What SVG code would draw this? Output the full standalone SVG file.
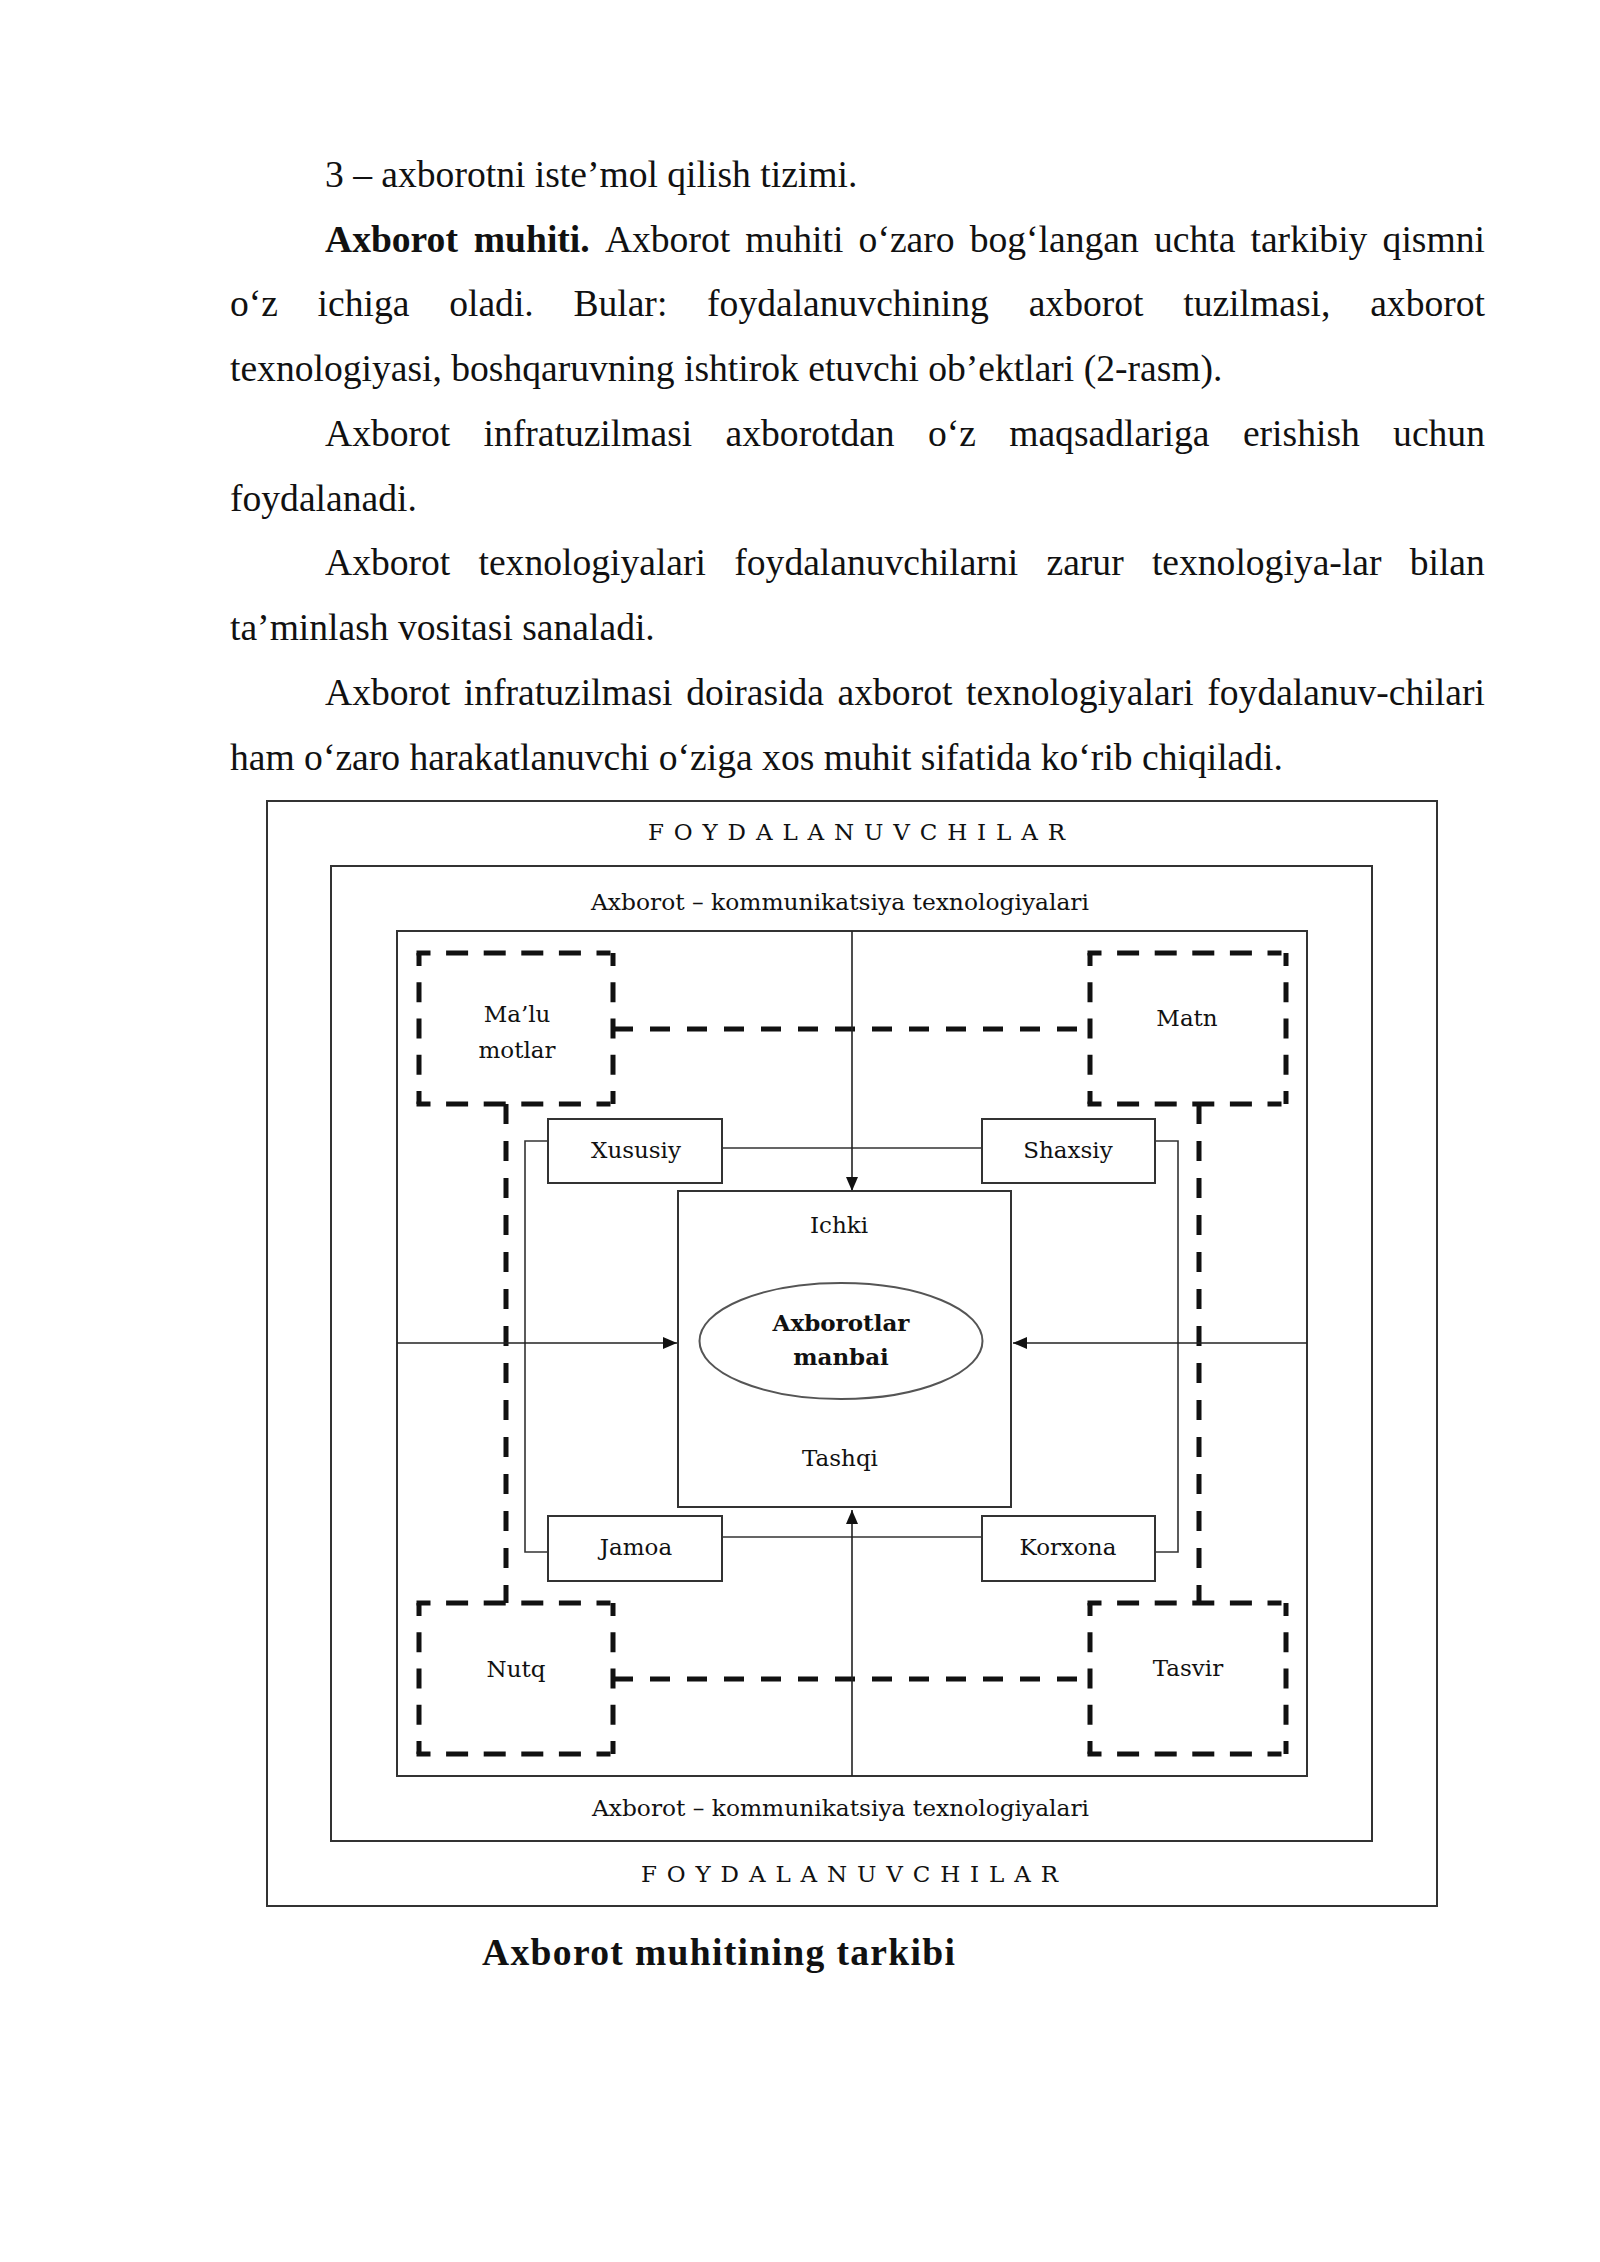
<svg xmlns="http://www.w3.org/2000/svg" width="1600" height="2262" viewBox="0 0 1600 2262">
<style>
.body{font-family:"Liberation Serif","Times New Roman",serif;font-size:37.6px;fill:#111}
.b{font-weight:bold}
.lbl{font-family:"DejaVu Serif","Liberation Serif",serif;font-size:23px;fill:#111}
.frame{fill:none;stroke:#333;stroke-width:2}
.box{fill:#fff;stroke:#333;stroke-width:2}
.thin{fill:none;stroke:#333;stroke-width:1.6}
.dh{fill:none;stroke:#111;stroke-width:5;stroke-dasharray:14 15.6 22 15.6 22 15.6 22 15.6 22 15.6 14 100}
.dv{fill:none;stroke:#111;stroke-width:5;stroke-dasharray:13 16.25 20 16.25 20 16.25 20 16.25 13 100}
.dc{fill:none;stroke:#111;stroke-width:5;stroke-dasharray:20 17}
.arr{fill:none;stroke:#222;stroke-width:1.6;marker-end:url(#ah)}
</style>
<defs>
<marker id="ah" markerUnits="userSpaceOnUse" markerWidth="14" markerHeight="12" refX="14" refY="6" orient="auto">
<path d="M0,0 L14,6 L0,12 z" fill="#111"/>
</marker>
</defs>
<rect width="1600" height="2262" fill="#fff"/>

<g id="text-body" class="body">
<text x="325" y="187">3 – axborotni iste’mol qilish tizimi.</text>
<text y="252"><tspan class="b" x="325">Axborot</tspan><tspan class="b" x="473.8">muhiti.</tspan><tspan x="604.9">Axborot</tspan><tspan x="745.3">muhiti</tspan><tspan x="858.6">o‘zaro</tspan><tspan x="969.7">bog‘langan</tspan><tspan x="1154">uchta</tspan><tspan x="1250.5">tarkibiy</tspan><tspan x="1382.6">qismni</tspan></text>
<text y="316"><tspan x="230">o‘z</tspan><tspan x="317.6">ichiga</tspan><tspan x="449.2">oladi.</tspan><tspan x="573.4">Bular:</tspan><tspan x="707.1">foydalanuvchining</tspan><tspan x="1028.7">axborot</tspan><tspan x="1183.2">tuzilmasi,</tspan><tspan x="1370.2">axborot</tspan></text>
<text x="230" y="381">texnologiyasi, boshqaruvning ishtirok etuvchi ob’ektlari (2-rasm).</text>
<text y="446"><tspan x="325">Axborot</tspan><tspan x="483.5">infratuzilmasi</tspan><tspan x="725.6">axborotdan</tspan><tspan x="928">o‘z</tspan><tspan x="1009.2">maqsadlariga</tspan><tspan x="1242.9">erishish</tspan><tspan x="1393.1">uchun</tspan></text>
<text x="230" y="511">foydalanadi.</text>
<text y="575"><tspan x="325">Axborot</tspan><tspan x="478.5">texnologiyalari</tspan><tspan x="734.3">foydalanuvchilarni</tspan><tspan x="1046.5">zarur</tspan><tspan x="1151.9">texnologiya-lar</tspan><tspan x="1409.7">bilan</tspan></text>
<text x="230" y="640">ta’minlash vositasi sanaladi.</text>
<text y="705"><tspan x="325">Axborot</tspan><tspan x="463.8">infratuzilmasi</tspan><tspan x="686.3">doirasida</tspan><tspan x="837.6">axborot</tspan><tspan x="966.1">texnologiyalari</tspan><tspan x="1207.3">foydalanuv-chilari</tspan></text>
<text x="230" y="770">ham o‘zaro harakatlanuvchi o‘ziga xos muhit sifatida ko‘rib chiqiladi.</text>
</g>

<g id="frame-foydalanuvchilar">
<rect class="frame" x="267" y="801" width="1170" height="1105"/>
<text class="lbl" x="648" y="840" textLength="417" lengthAdjust="spacing">FOYDALANUVCHILAR</text>
<text class="lbl" x="641" y="1882" textLength="417" lengthAdjust="spacing">FOYDALANUVCHILAR</text>
</g>

<g id="frame-akt">
<rect class="frame" x="331" y="866" width="1041" height="975"/>
<text class="lbl" x="591" y="910" textLength="498" lengthAdjust="spacingAndGlyphs">Axborot – kommunikatsiya texnologiyalari</text>
<text class="lbl" x="592" y="1816" textLength="497" lengthAdjust="spacingAndGlyphs">Axborot – kommunikatsiya texnologiyalari</text>
</g>

<g id="frame-inner">
<rect class="frame" x="397" y="931" width="910" height="845"/>
</g>

<g id="connectors">
<path class="thin" d="M722,1148 H982 M722,1537 H982 M548,1141 H525 V1552 H548 M1155,1141 H1178 V1552 H1155"/>
<path class="dc" d="M613,1029 H1090 M613,1679 H1090 M506,1104 V1603 M1199,1104 V1603"/>
<line class="arr" x1="852" y1="931" x2="852" y2="1191"/>
<line class="arr" x1="852" y1="1776" x2="852" y2="1510"/>
<line class="arr" x1="397" y1="1343" x2="677" y2="1343"/>
<line class="arr" x1="1307" y1="1343" x2="1013" y2="1343"/>
</g>

<g id="node-malumotlar">
<path class="dh" d="M416.5,953 H615.5 M416.5,1104 H615.5"/>
<path class="dv" d="M419,953 V1104 M613,953 V1104"/>
<text class="lbl" x="517" y="1022" text-anchor="middle">Ma’lu</text>
<text class="lbl" x="517" y="1058" text-anchor="middle">motlar</text>
</g>

<g id="node-matn">
<path class="dh" d="M1087.5,953 H1288.5 M1087.5,1104 H1288.5"/>
<path class="dv" d="M1090,953 V1104 M1286,953 V1104"/>
<text class="lbl" x="1187" y="1026" text-anchor="middle">Matn</text>
</g>

<g id="node-nutq">
<path class="dh" d="M416.5,1603 H615.5 M416.5,1754 H615.5"/>
<path class="dv" d="M419,1603 V1754 M613,1603 V1754"/>
<text class="lbl" x="516" y="1677" text-anchor="middle">Nutq</text>
</g>

<g id="node-tasvir">
<path class="dh" d="M1087.5,1603 H1288.5 M1087.5,1754 H1288.5"/>
<path class="dv" d="M1090,1603 V1754 M1286,1603 V1754"/>
<text class="lbl" x="1188" y="1676" text-anchor="middle">Tasvir</text>
</g>

<g id="node-xususiy">
<rect class="box" x="548" y="1119" width="174" height="64"/>
<text class="lbl" x="636" y="1158" text-anchor="middle">Xususiy</text>
</g>

<g id="node-shaxsiy">
<rect class="box" x="982" y="1119" width="173" height="64"/>
<text class="lbl" x="1068" y="1158" text-anchor="middle">Shaxsiy</text>
</g>

<g id="node-jamoa">
<rect class="box" x="548" y="1516" width="174" height="65"/>
<text class="lbl" x="636" y="1555" text-anchor="middle">Jamoa</text>
</g>

<g id="node-korxona">
<rect class="box" x="982" y="1516" width="173" height="65"/>
<text class="lbl" x="1068" y="1555" text-anchor="middle">Korxona</text>
</g>

<g id="node-center">
<rect class="frame" x="678" y="1191" width="333" height="316"/>
<text class="lbl" x="839" y="1233" text-anchor="middle">Ichki</text>
<text class="lbl" x="840" y="1466" text-anchor="middle">Tashqi</text>
</g>

<g id="node-manbai">
<ellipse cx="841" cy="1341" rx="141.5" ry="58" fill="#fff" stroke="#555" stroke-width="2"/>
<text class="lbl" x="841" y="1331" text-anchor="middle" font-weight="bold">Axborotlar</text>
<text class="lbl" x="841" y="1365" text-anchor="middle" font-weight="bold">manbai</text>
</g>

<g id="caption">
<text class="body b" x="482" y="1965" textLength="473" lengthAdjust="spacing">Axborot muhitining tarkibi</text>
</g>
</svg>
